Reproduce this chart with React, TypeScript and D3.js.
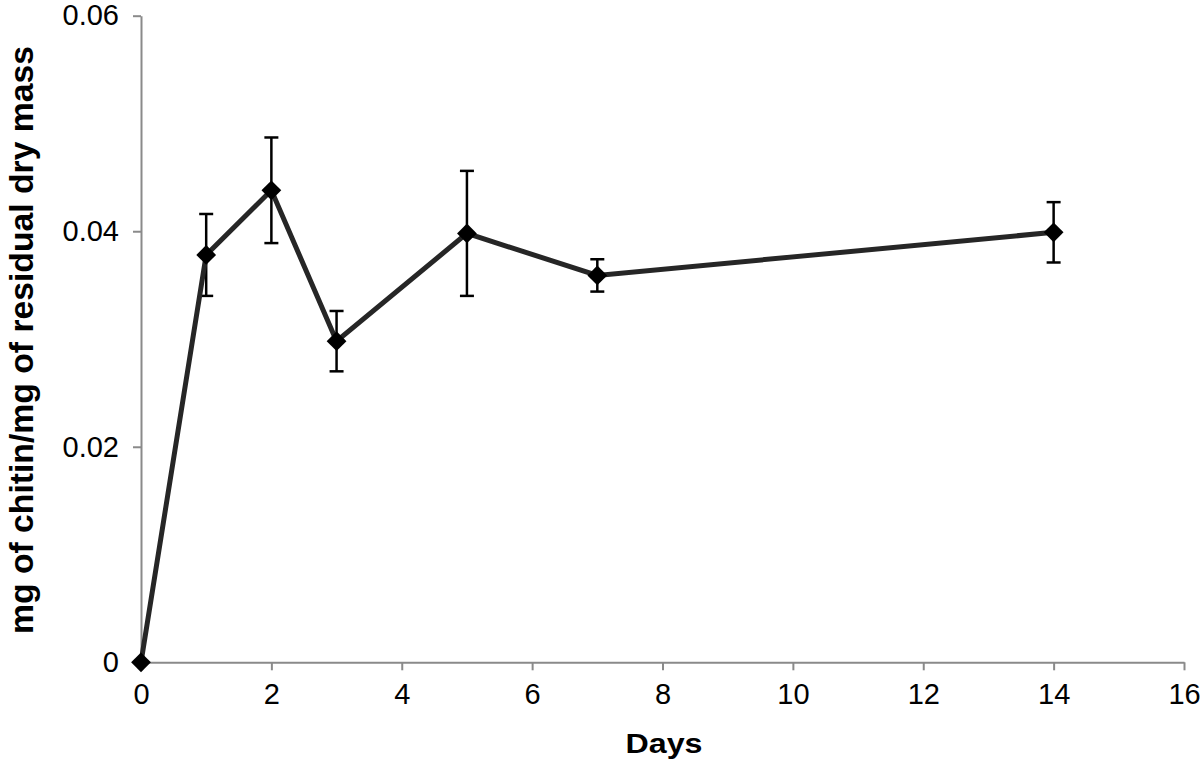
import React, { useEffect, useRef } from 'react';
import * as d3 from 'd3';

const days = [0, 1, 2, 3, 5, 7, 14];
const chitin = [0, 0.0378, 0.0438, 0.0298, 0.0398, 0.0359, 0.0399];
const errors = [0, 0.0038, 0.0049, 0.0028, 0.0058, 0.0015, 0.0028];
const xTicks = [0, 2, 4, 6, 8, 10, 12, 14, 16];
const yTicks = [0, 0.02, 0.04, 0.06];
const yTickLabels = ['0', '0.02', '0.04', '0.06'];

const App: React.FC = () => {
    const ref = useRef<SVGSVGElement>(null);

    useEffect(() => {
        const svg = d3.select(ref.current);
        svg.selectAll("*").remove();

        const width = 1200;
        const height = 759;

        const x = d3.scaleLinear().domain([0, 16]).range([141, 1184]);
        const y = d3.scaleLinear().domain([0, 0.06]).range([662.3, 15.7]);

        const axisColor = "#8a8a8a";
        const font = "'Liberation Sans', Arial, Helvetica, sans-serif";

        // y axis
        const yAxis = svg.append("g")
            .attr("transform", `translate(${x(0)},0)`)
            .call(d3.axisLeft(y)
                .tickValues(yTicks)
                .tickFormat((d, i) => yTickLabels[i])
                .tickSize(8)
                .tickSizeOuter(0)
                .tickPadding(14));

        // x axis
        const xAxis = svg.append("g")
            .attr("transform", `translate(0,${y(0)})`)
            .call(d3.axisBottom(x)
                .tickValues(xTicks)
                .tickFormat(d3.format("d"))
                .tickSize(8)
                .tickSizeOuter(0)
                .tickPadding(13));

        [yAxis, xAxis].forEach(g => {
            g.select(".domain").attr("stroke", axisColor).attr("stroke-width", 2);
            g.selectAll(".tick line").attr("stroke", axisColor).attr("stroke-width", 2);
            g.selectAll(".tick text")
                .attr("fill", "#000")
                .style("font-family", font)
                .style("font-size", "29px");
        });

        const data = days.map((d, i) => ({ day: d, v: chitin[i], e: errors[i] }));

        // error bars
        const eb = svg.append("g").attr("stroke", "#000").attr("stroke-width", 2.5);
        data.filter(d => d.e > 0).forEach(d => {
            const cx = x(d.day);
            eb.append("line")
                .attr("x1", cx).attr("x2", cx)
                .attr("y1", y(d.v + d.e)).attr("y2", y(d.v - d.e));
            [d.v + d.e, d.v - d.e].forEach(v => {
                eb.append("line")
                    .attr("x1", cx - 7).attr("x2", cx + 7)
                    .attr("y1", y(v)).attr("y2", y(v));
            });
        });

        // line
        const line = d3.line<{ day: number; v: number }>()
            .x(d => x(d.day))
            .y(d => y(d.v));

        svg.append("path")
            .datum(data)
            .attr("d", line)
            .attr("fill", "none")
            .attr("stroke", "#262626")
            .attr("stroke-width", 5)
            .attr("stroke-linejoin", "miter");

        // markers
        svg.append("g")
            .selectAll("path")
            .data(data)
            .enter().append("path")
            .attr("d", d3.symbol().type(d3.symbolDiamond2).size(250))
            .attr("transform", d => `translate(${x(d.day)},${y(d.v)})`)
            .attr("fill", "#000");

        // axis titles
        svg.append("text")
            .attr("x", 664)
            .attr("y", 753)
            .attr("text-anchor", "middle")
            .attr("textLength", 77)
            .attr("lengthAdjust", "spacingAndGlyphs")
            .style("font-family", font)
            .style("font-weight", "bold")
            .style("font-size", "27px")
            .text("Days");

        svg.append("text")
            .attr("transform", `translate(33,340) rotate(-90)`)
            .attr("text-anchor", "middle")
            .attr("textLength", 588)
            .attr("lengthAdjust", "spacingAndGlyphs")
            .style("font-family", font)
            .style("font-weight", "bold")
            .style("font-size", "33px")
            .text("mg of chitin/mg of residual dry mass");

        svg.attr("width", width).attr("height", height);
    }, []);

    return <svg ref={ref} width="1200" height="759" style={{ position: 'absolute', left: 0, top: 0, background: '#fff' }}></svg>;
};

export default App;
